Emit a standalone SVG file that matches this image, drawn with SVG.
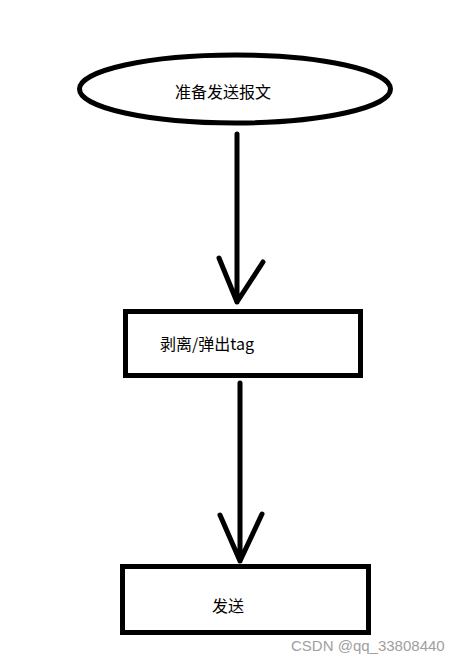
<svg xmlns="http://www.w3.org/2000/svg" width="475" height="664" viewBox="0 0 475 664">
<style>
.shape{fill:#fff;stroke:#000;stroke-width:5}
.conn{fill:none;stroke:#000;stroke-width:5;stroke-linecap:round;stroke-linejoin:round}
.lbl{font-family:"Microsoft YaHei","Noto Sans CJK SC",sans-serif;font-size:16px;fill:#000}
.wm{font-family:"Liberation Sans",Arial,sans-serif;font-size:15px;fill:#a0a0a0}
</style>
<rect width="475" height="664" fill="#fff"/>
<g id="connectors">
<path class="conn" d="M237,134 V302 M219,258 L237,302 L263,262"/>
<path class="conn" d="M240,383 V561 M220,515 L240,561 L262,514"/>
</g>
<g id="n1">
<ellipse class="shape" cx="235" cy="89" rx="155.5" ry="34"/>
<text class="lbl" x="175" y="98">准备发送报文</text>
</g>
<g id="n2">
<rect class="shape" x="125.5" y="311.5" width="235" height="64"/>
<text class="lbl" x="160" y="350">剥离/弹出tag</text>
</g>
<g id="n3">
<rect class="shape" x="122.5" y="566.5" width="246" height="66"/>
<text class="lbl" x="212" y="612">发送</text>
</g>
<text class="wm" x="291" y="651">CSDN @qq_33808440</text>
</svg>
